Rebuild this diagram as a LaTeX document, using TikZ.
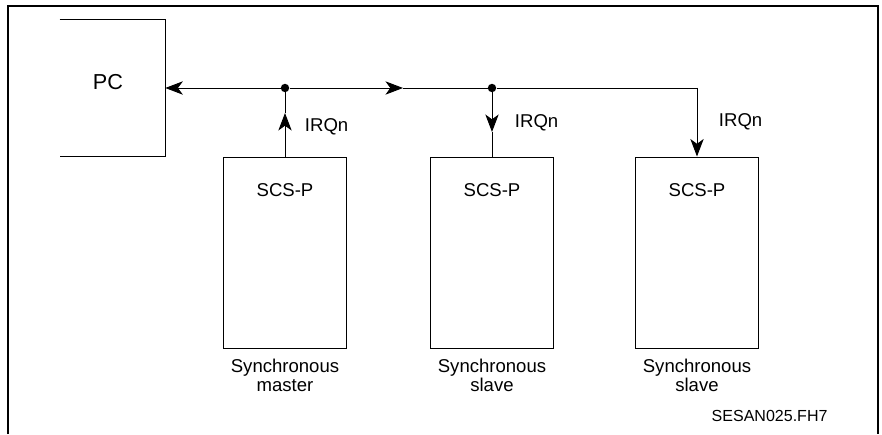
\documentclass[tikz,border=0pt]{standalone}
\usepackage{fontspec}
\setmainfont{Liberation Sans}
\usetikzlibrary{arrows.meta, positioning}

\begin{document}
\begin{tikzpicture}[
    linea/.style = {line width = 0.7pt},
    punta/.style = {-{Stealth[length = 12.5pt, width = 9.5pt, inset = 3.5pt]}},
    caja/.style = {draw, line width = 0.7pt, minimum width = 3.075cm, minimum height = 4.775cm},
    texto/.style = {font = \fontsize{13.2}{13.2}\selectfont},
    punto/.style = {circle, fill, inner sep = 0pt, minimum size = 6pt}
]
% Fijamos el tamano de la figura
\useasboundingbox (0, 0) rectangle (22.05, 10.85);

% Marco exterior, abierto por abajo
\draw[line width = 1.3pt] (0.2, 0) -- (0.2, 10.7) -- (21.95, 10.7) -- (21.95, 0);

% El PC: una caja sin lado izquierdo
\node[minimum width = 2.625cm, minimum height = 3.425cm, font = \fontsize{15.4}{15.4}\selectfont] (pc) at (2.8125, 8.65) {};
\node[font = \fontsize{15.4}{15.4}\selectfont] (pct) at (2.7, 8.8) {PC};
\draw[linea] (pc.north west) -- (pc.north east) -- (pc.south east) -- (pc.south west);

% Las tres cajas SCS-P
\node[caja] (b1) at (7.125, 4.5375) {};
\node[caja] (b2) at (12.3, 4.5375) {};
\node[caja] (b3) at (17.425, 4.5375) {};
\node[texto, below = 0.55cm of b1.north] (s1) {SCS-P};
\node[texto, below = 0.55cm of b2.north] (s2) {SCS-P};
\node[texto, below = 0.55cm of b3.north] (s3) {SCS-P};

% Nombres debajo de las cajas
\node[texto, align = center, below = 0.15cm of b1] (n1) {Synchronous\\master};
\node[texto, align = center, below = 0.15cm of b2] (n2) {Synchronous\\slave};
\node[texto, align = center, below = 0.15cm of b3] (n3) {Synchronous\\slave};

% Puntos de union sobre el bus y puntas intermedias
\node[punto] (d1) at (b1 |- pc.east) {};
\node[punto] (d2) at (b2 |- pc.east) {};
\coordinate (m1) at (10.075, 8.65);
\coordinate (up1) at (7.125, 8.025);
\coordinate (dn2) at (12.3, 7.55);
\coordinate (c3) at (b3 |- pc.east);

% El bus
\draw[linea, punta] (d1) -- (pc.east);
\draw[linea, punta] (d1) -- (m1);
\draw[linea] (m1) -- (d2) -- (c3);

% Lineas IRQn
\draw[linea, punta] (b1.north) -- (up1);
\draw[linea] (up1) -- (d1);
\draw[linea, punta] (d2) -- (dn2);
\draw[linea] (dn2) -- (b2.north);
\draw[linea, punta] (c3) -- (b3.north);

\node[texto, anchor = west] (i1) at (7.5, 7.675) {IRQn};
\node[texto, anchor = west] (i2) at (12.75, 7.775) {IRQn};
\node[texto, anchor = west] (i3) at (17.85, 7.8) {IRQn};

% Referencia de la figura
\node[font = \fontsize{11.4}{11.4}\selectfont] (ref) at (19.24, 0.45) {SESAN025.FH7};
\end{tikzpicture}
\end{document}
